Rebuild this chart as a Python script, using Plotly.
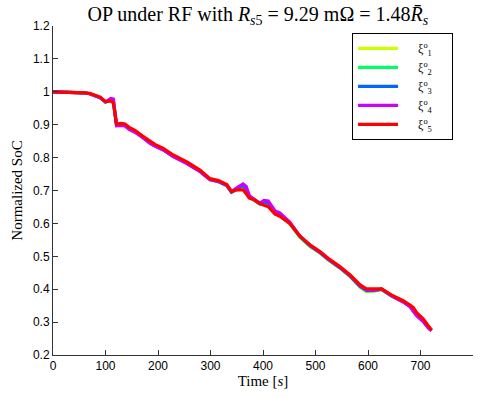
import plotly.graph_objects as go

# shared time grid [s]
time_s = [0, 50, 60, 70, 80, 90, 100, 110, 115, 121, 130, 137, 145, 156, 170, 185, 194, 210, 229, 255,
          270, 280, 299, 315, 331, 340, 350, 362, 368, 374, 382, 394, 402, 410, 423, 432, 451, 470, 490,
          509, 524, 547, 566, 585, 597, 610, 626, 645, 667, 680, 686, 693, 705, 715, 721]

soc_xi1 = [1.000, 0.999, 0.997, 0.994, 0.989, 0.982, 0.969, 0.974, 0.968, 0.900, 0.901, 0.899, 0.889, 0.880,
           0.864, 0.845, 0.837, 0.825, 0.805, 0.784, 0.769, 0.759, 0.734, 0.727, 0.715, 0.695, 0.702, 0.712,
           0.700, 0.680, 0.672, 0.659, 0.660, 0.656, 0.630, 0.624, 0.599, 0.558, 0.529, 0.509, 0.489, 0.463,
           0.438, 0.406, 0.393, 0.394, 0.398, 0.380, 0.362, 0.349, 0.339, 0.324, 0.305, 0.285, 0.275]
soc_xi2 = [1.000, 0.999, 0.997, 0.994, 0.989, 0.982, 0.969, 0.975, 0.969, 0.900, 0.901, 0.899, 0.889, 0.880,
           0.864, 0.845, 0.837, 0.825, 0.805, 0.784, 0.769, 0.759, 0.734, 0.727, 0.715, 0.695, 0.703, 0.714,
           0.702, 0.681, 0.672, 0.659, 0.662, 0.658, 0.631, 0.625, 0.600, 0.559, 0.530, 0.510, 0.490, 0.464,
           0.439, 0.407, 0.394, 0.395, 0.399, 0.380, 0.362, 0.349, 0.338, 0.323, 0.304, 0.284, 0.275]
soc_xi3 = [1.000, 0.999, 0.997, 0.994, 0.989, 0.982, 0.969, 0.976, 0.971, 0.899, 0.900, 0.898, 0.888, 0.879,
           0.863, 0.844, 0.836, 0.824, 0.804, 0.783, 0.768, 0.758, 0.733, 0.727, 0.715, 0.695, 0.705, 0.716,
           0.706, 0.682, 0.673, 0.660, 0.665, 0.662, 0.634, 0.628, 0.602, 0.561, 0.532, 0.511, 0.491, 0.465,
           0.440, 0.409, 0.396, 0.396, 0.400, 0.380, 0.362, 0.348, 0.336, 0.321, 0.303, 0.283, 0.275]
soc_xi4 = [1.000, 0.999, 0.997, 0.994, 0.989, 0.982, 0.969, 0.980, 0.978, 0.897, 0.898, 0.896, 0.886, 0.877,
           0.862, 0.843, 0.835, 0.823, 0.803, 0.782, 0.767, 0.758, 0.733, 0.728, 0.716, 0.696, 0.708, 0.720,
           0.712, 0.684, 0.675, 0.662, 0.670, 0.668, 0.638, 0.632, 0.604, 0.562, 0.533, 0.512, 0.492, 0.466,
           0.441, 0.410, 0.398, 0.397, 0.400, 0.380, 0.361, 0.347, 0.333, 0.319, 0.302, 0.282, 0.274]
soc_xi5 = [1.000, 0.999, 0.997, 0.995, 0.990, 0.984, 0.970, 0.972, 0.966, 0.902, 0.904, 0.902, 0.892, 0.883,
           0.866, 0.848, 0.840, 0.828, 0.808, 0.787, 0.772, 0.762, 0.736, 0.730, 0.718, 0.697, 0.702, 0.702,
           0.690, 0.677, 0.673, 0.660, 0.655, 0.651, 0.628, 0.622, 0.600, 0.562, 0.534, 0.514, 0.494, 0.468,
           0.443, 0.413, 0.401, 0.400, 0.401, 0.382, 0.365, 0.352, 0.345, 0.328, 0.310, 0.288, 0.276]

series_names = ["ξ<sup>o</sup><sub>1</sub>", "ξ<sup>o</sup><sub>2</sub>", "ξ<sup>o</sup><sub>3</sub>",
                "ξ<sup>o</sup><sub>4</sub>", "ξ<sup>o</sup><sub>5</sub>"]
series_values = [soc_xi1, soc_xi2, soc_xi3, soc_xi4, soc_xi5]
series_colors = ["#ccff00", "#00ff66", "#0066ff", "#cc00ff", "#ff0000"]

x_ticks = [0, 100, 200, 300, 400, 500, 600, 700, 800]
y_ticks = [0.2, 0.3, 0.4, 0.5, 0.6, 0.7, 0.8, 0.9, 1.0, 1.1, 1.2]

fig = go.Figure()
for name, vals, col in zip(series_names, series_values, series_colors):
    fig.add_trace(go.Scatter(x=time_s, y=vals, mode="lines",
                             name="\u00a0\u00a0\u00a0\u00a0\u00a0" + name + "\u00a0\u00a0\u00a0\u00a0\u00a0",
                             line=dict(color=col, width=3.2)))

serif = "Liberation Serif, DejaVu Serif, serif"
sans = "Liberation Sans, Arial, sans-serif"

fig.update_layout(
    width=482, height=398,
    margin=dict(l=53, r=9, t=26, b=43),
    paper_bgcolor="white", plot_bgcolor="white",
    title=dict(text="OP under RF with <i>R</i><sub><i>s</i>5</sub> = 9.29 mΩ = 1.48<i>R̄</i><sub><i>s</i></sub>",
               x=0.535, xanchor="center", y=0.965, yanchor="middle",
               font=dict(family=serif, size=20, color="black")),
    showlegend=True,
    legend=dict(x=0.712, y=0.979, xanchor="left", yanchor="top",
                bordercolor="black", borderwidth=1, bgcolor="white",
                font=dict(family=serif, size=12, color="black"),
                tracegroupgap=0, itemwidth=40),
    xaxis=dict(range=[0, 800], tickvals=x_ticks, ticks="inside", ticklen=5,
               tickcolor="#333", showline=True, linecolor="#333", linewidth=1,
               showgrid=False, zeroline=False, mirror=False,
               tickfont=dict(family=sans, size=12, color="black"),
               title=dict(text="Time [<i>s</i>]", font=dict(family=serif, size=15, color="black"),
                          standoff=2)),
    yaxis=dict(range=[0.2, 1.2], tickvals=y_ticks, ticktext=[f"{v:g}" for v in y_ticks],
               ticks="inside", ticklen=5,
               tickcolor="#333", showline=True, linecolor="#333", linewidth=1,
               showgrid=False, zeroline=False, mirror=False,
               tickfont=dict(family=sans, size=12, color="black"),
               title=dict(text="Normalized SoC", font=dict(family=serif, size=15, color="black"),
                          standoff=6)),
)

fig.write_html("out.html")
